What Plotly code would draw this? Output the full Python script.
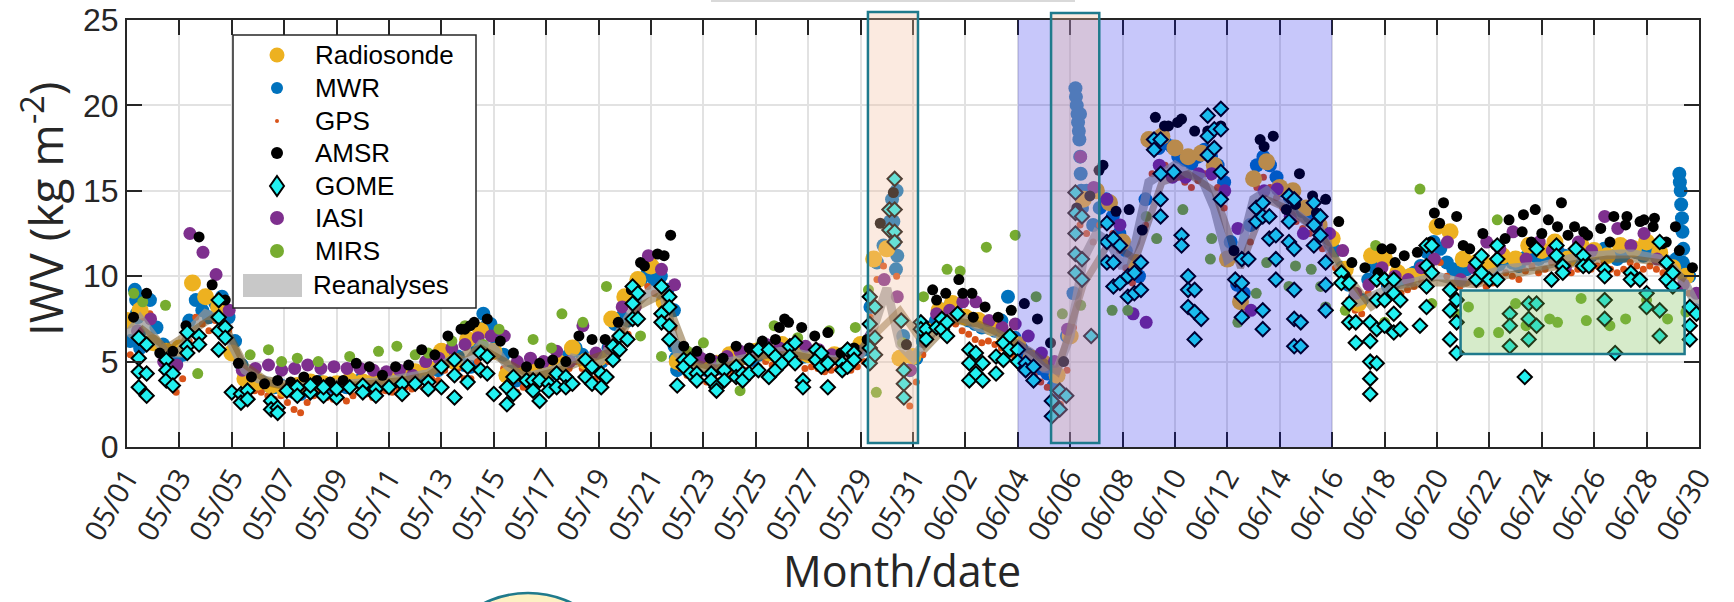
import numpy as np
import plotly.graph_objects as go

# ---------------- axis labels ----------------
tick_text = ["05/01", "05/03", "05/05", "05/07", "05/09", "05/11", "05/13", "05/15",
             "05/17", "05/19", "05/21", "05/23", "05/25", "05/27", "05/29", "05/31",
             "06/02", "06/04", "06/06", "06/08", "06/10", "06/12", "06/14", "06/16",
             "06/18", "06/20", "06/22", "06/24", "06/26", "06/28", "06/30"]
y_ticks = [0, 5, 10, 15, 20, 25]
legend_names = ["Radiosonde", "MWR", "GPS", "AMSR", "GOME", "IASI", "MIRS", "Reanalyses"]

# ---------------- data (IWV, kg m-2), one row per day from 05/01 ----------------
mwr_v = [
    [6.2, 7.8, 8.8, 8.6], [7.0, 6.0, 5.6, 5.0], [5.4, 7.4, 8.6, 8.0], [7.6, 8.4, 8.8, 7.6],
    [6.2, 4.8, 4.2, 4.0], [3.8, 3.6, 3.5, 3.6], [3.4, 3.2, 3.1, 3.4], [3.7, 3.8, 3.6, 3.5],
    [3.6, 3.5, 3.8, 3.9], [3.7, 3.6, 3.9, 4.0], [3.8, 4.0, 4.1, 4.0], [4.2, 4.4, 4.6, 4.5],
    [5.2, 5.6, 5.3, 4.8], [4.7, 5.8, 6.8, 7.2], [6.2, 5.4, 4.4, 3.9], [4.1, 4.3, 4.1, 4.4],
    [4.6, 4.3, 4.8, 5.4], [5.8, 5.4, 5.0, 4.8], [5.0, 5.8, 7.2, 7.6], [7.4, 8.6, 9.8, 10.2],
    [9.8, 10.0, 9.2, 8.0], [5.4, 4.9, 4.7, 4.6], [4.5, 4.7, 4.6, 4.9], [5.1, 5.3, 5.2, 5.1],
    [5.4, 5.7, 5.5, 5.3], [5.6, 5.9, 5.7, 5.3], [5.4, 5.3, 5.1, 5.2], [5.3, 5.1, 5.2, 5.4],
    [5.7, 8.2, 10.8, 11.8], [13.2, 15.0, 6.5, 4.5], [5.2, 6.2, 7.0, 7.4], [7.8, 8.2, 8.0, 7.6],
    [7.4, 7.2, 7.0, 7.0], [6.8, 7.4, 8.8, 6.4], [5.8, 5.4, 5.0, 4.6], [4.3, 3.6, 3.2, 6.5],
    [9.0, 19.5, 15.0, 13.0], [14.0, 14.5, 13.5, 12.5], [11.5, 10.5, 10.0, 14.5], [17.8, 17.5, 17.8, 17.6],
    [17.0, 16.8, 16.6, 17.0], [17.4, 17.0, 16.5, 15.5], [12.0, 9.5, 9.0, 13.0], [16.5, 17.0, 16.5, 15.8],
    [15.0, 14.6, 14.2, 13.8], [13.5, 13.0, 12.6, 12.2], [11.5, 10.5, 9.5, 8.8], [8.6, 9.8, 10.5, 10.8],
    [9.4, 9.6, 9.8, 10.0], [10.2, 10.6, 11.4, 12.0], [11.6, 10.8, 10.4, 10.2], [10.4, 10.6, 10.5, 10.2],
    [10.4, 10.7, 11.0, 10.8], [10.6, 11.1, 11.4, 11.0], [11.2, 11.6, 11.4, 11.2], [11.0, 11.2, 11.5, 11.2],
    [11.4, 11.6, 11.2, 11.0], [11.2, 11.6, 11.4, 11.2], [11.4, 11.2, 11.0, 10.8], [11.0, 10.8, 10.0, 8.0],
]
mwr_extra_t = [0.3, 0.35, 0.4, 0.45, 0.5, 13.6, 13.65, 20.9, 20.95, 21.0,
               29.2, 29.25, 29.3, 29.35, 29.4, 36.2, 36.22, 36.25, 36.28, 36.3,
               36.33, 36.35, 36.38, 36.4, 36.42, 36.45, 59.25, 59.27, 59.3, 59.32,
               59.35, 59.37, 59.4, 59.42]
mwr_extra_v = [9.2, 8.6, 7.6, 6.6, 5.8, 7.8, 7.0, 5.9, 5.2, 4.5,
               14.5, 13.2, 12.0, 10.4, 11.2, 21.0, 20.5, 20.0, 19.5, 19.0,
               18.5, 18.0, 17.0, 16.0, 15.0, 14.0, 16.0, 15.5, 15.0, 14.2,
               13.4, 12.6, 11.6, 10.6]

gps_v = [
    [5.4, 6.5, 7.6, 7.8], [6.0, 5.0, 4.4, 3.2], [4.0, 6.2, 7.6, 7.2], [6.8, 7.4, 7.8, 6.8],
    [5.4, 4.0, 3.5, 3.3], [3.2, 3.0, 2.8, 3.0], [2.6, 2.2, 2.0, 2.6], [3.0, 3.2, 2.9, 2.8],
    [2.9, 2.7, 3.0, 3.2], [3.1, 2.9, 3.2, 3.3], [3.2, 3.4, 3.5, 3.4], [3.6, 3.8, 4.0, 3.9],
    [4.5, 4.8, 4.6, 4.0], [4.0, 5.0, 6.0, 6.4], [5.4, 4.6, 3.6, 3.2], [3.5, 3.7, 3.5, 3.8],
    [3.9, 3.6, 4.1, 4.6], [5.0, 4.6, 4.2, 4.0], [4.2, 5.0, 6.4, 6.8], [6.6, 7.8, 9.0, 9.4],
    [9.0, 9.2, 8.4, 7.0], [4.6, 4.2, 4.0, 3.9], [3.8, 4.0, 3.9, 4.2], [4.4, 4.6, 4.5, 4.4],
    [4.7, 5.0, 4.8, 4.6], [4.9, 5.2, 5.0, 4.6], [4.7, 4.6, 4.4, 4.5], [4.6, 4.4, 4.5, 4.7],
    [5.0, 7.6, 9.8, 10.6], [11.5, 10.0, 3.0, 2.4], [3.8, 5.4, 6.3, 6.8], [7.0, 7.4, 7.2, 6.8],
    [6.6, 6.3, 6.1, 6.2], [6.0, 5.8, 5.6, 5.3], [5.0, 4.6, 4.2, 3.8], [3.5, 2.8, 2.5, 4.5],
    [7.0, 13.0, 12.5, 12.0], [13.0, 13.2, 12.5, 11.5], [10.5, 9.6, 9.2, 13.0], [16.0, 16.2, 16.5, 16.2],
    [15.8, 15.5, 15.2, 15.6], [16.0, 15.8, 15.2, 14.0], [11.0, 8.5, 8.2, 12.0], [15.2, 15.8, 15.2, 14.6],
    [14.0, 13.6, 13.2, 12.8], [12.5, 12.0, 11.6, 11.2], [10.5, 9.6, 8.6, 8.0], [7.8, 9.0, 9.8, 10.0],
    [8.6, 8.8, 9.0, 9.2], [9.4, 9.8, 10.5, 11.0], [10.8, 10.0, 9.6, 9.4], [9.6, 9.8, 9.7, 9.4],
    [9.6, 9.9, 10.2, 10.0], [9.8, 10.3, 10.6, 10.2], [10.4, 10.8, 10.6, 10.4], [10.2, 10.4, 10.7, 10.4],
    [10.6, 10.8, 10.4, 10.2], [10.4, 10.8, 10.6, 10.4], [10.6, 10.4, 10.2, 10.0], [10.2, 9.8, 9.0, 7.8],
]

radiosonde_v = [
    [7.4, 8.0], [6.1, 5.6], [5.8, 9.6], [8.8, 8.2], [5.5, 4.0], [3.8, 3.6], [3.4, 3.6], [3.8, 3.7],
    [3.7, 3.9], [3.8, 4.0], [4.0, 4.2], [4.4, 4.6], [5.6, 5.0], [6.3, 6.8], [5.6, 4.2], [4.3, 4.4],
    [4.5, 4.9], [5.8, 5.0], [5.2, 7.5], [8.8, 9.8], [10.6, 8.5], [5.0, 4.8], [4.8, 4.9], [5.4, 5.3],
    [5.6, 5.5], [6.0, 5.6], [5.4, 5.2], [5.4, 5.5], [6.0, 11.0], [11.6, 5.2], [5.3, 6.8], [8.0, 8.4],
    [7.6, 7.4], [7.0, 6.4], [6.0, 5.2], [4.9, 4.2], [6.5, 14.5], [15.0, 14.3], [12.0, 10.8], [18.0, 18.2],
    [17.5, 17.0], [17.2, 16.5], [11.0, 8.5], [15.7, 16.7], [15.2, 15.0], [14.0, 13.0], [12.2, 10.4], [8.4, 11.2],
    [11.0, 10.2], [10.0, 10.3], [12.9, 12.6], [11.0, 10.8], [10.6, 11.2], [11.0, 11.8], [11.5, 12.0], [11.0, 11.8],
    [11.5, 11.2], [11.8, 11.6], [12.0, 11.4], [10.5, 10.0],
]

amsr_v = [
    [7.6, 9.0], [5.5, 5.6], [7.1, 12.3], [9.5, 8.6], [4.9, 4.1], [3.7, 3.9], [3.8, 4.1], [3.9, 3.8],
    [3.9, 4.9], [4.7, 4.2], [4.7, 4.8], [5.7, 5.4], [6.5, 6.9], [7.3, 7.5], [6.2, 5.5], [4.7, 4.9],
    [5.1, 5.0], [6.5, 6.3], [6.3, 7.3], [9.2, 10.6], [11.3, 12.4], [5.9, 5.6], [5.2, 5.2], [5.9, 5.8],
    [6.2, 6.3], [7.3, 7.0], [6.5, 6.7], [5.5, 5.8], [6.3, 13.1], [14.9, 6.0], [6.9, 9.2], [9.0, 9.8],
    [9.0, 8.2], [7.6, 8.0], [8.4, 7.5], [6.1, 5.0], [14.0, 14.7], [16.5, 13.8], [13.9, 12.7], [19.3, 18.8],
    [19.2, 18.5], [18.5, 18.8], [11.5, 11.0], [18.0, 18.2], [13.9, 16.0], [14.7, 14.5], [13.2, 10.8], [10.5, 10.2],
    [11.6, 11.2], [11.4, 12.0], [14.3, 13.5], [11.6, 12.5], [11.8, 13.3], [12.6, 13.9], [13.3, 14.3], [12.9, 12.4],
    [12.8, 13.5], [13.5, 13.2], [12.9, 12.0], [11.5, 10.5],
]
amsr_extra_t = [49.9, 50.1, 51.0, 52.6, 53.3, 53.6, 54.0, 54.6, 55.0, 55.6,
                56.6, 57.2, 57.9, 58.3, 58.6, 59.1, 47.9, 48.4, 12.9, 13.1,
                19.6, 20.5, 24.9, 25.1, 30.9, 31.9, 32.3, 37.1, 39.6, 40.1,
                43.4, 44.6, 45.4, 46.5]
amsr_extra_v = [13.7, 13.1, 11.8, 12.2, 13.6, 12.0, 12.5, 12.9, 12.4, 12.6,
                12.0, 13.0, 13.3, 13.4, 11.9, 12.9, 11.6, 10.8, 6.9, 7.1,
                10.8, 11.2, 7.0, 7.5, 8.6, 9.0, 7.6, 16.2, 18.8, 19.0,
                17.6, 14.2, 13.7, 10.0]

iasi_v = [
    [6.8, 7.5], [5.0, 4.8], [12.5, 11.4], [10.1, 8.0], [4.5, 4.6], [4.8, 4.5], [4.6, 4.8], [4.6, 4.7],
    [4.6, 4.6], [4.5, 4.4], [4.5, 4.2], [5.0, 5.2], [5.8, 6.0], [6.4, 6.5], [6.5, 5.0], [5.2, 5.0],
    [5.6, 5.0], [7.1, 5.5], [5.8, 8.2], [8.2, 11.2], [10.4, 9.5], [5.3, 5.2], [5.0, 5.3], [5.6, 5.4],
    [6.0, 5.8], [6.0, 5.9], [5.7, 5.4], [5.2, 5.6], [6.5, 9.8], [8.8, 4.5], [6.2, 7.8], [8.0, 8.5],
    [8.5, 7.4], [7.0, 7.2], [6.5, 5.5], [5.0, 6.9], [17.0, 15.2], [14.5, 13.0], [7.8, 7.3], [16.5, 15.8],
    [15.8, 16.0], [16.0, 15.0], [12.8, 8.0], [15.0, 15.1], [13.5, 12.5], [13.1, 12.5], [11.5, 9.0], [9.5, 10.5],
    [10.0, 9.8], [10.5, 11.0], [12.0, 9.8], [10.5, 12.0], [11.6, 12.6], [11.0, 12.0], [11.5, 10.5], [12.0, 11.5],
    [13.5, 12.8], [11.8, 12.5], [11.0, 10.0], [9.5, 9.0],
]

mirs_t = [0.26, 0.6, 1.47, 2.7, 3.6, 4.7, 5.4, 5.9, 6.5, 7.3,
          8.5, 9.6, 10.3, 11.0, 11.5, 12.4, 12.9, 13.6, 14.2, 15.5,
          16.2, 16.6, 17.4, 18.3, 19.6, 20.4, 21.4, 22.0, 22.7, 23.4,
          24.2, 24.7, 25.6, 26.8, 27.8, 28.3, 28.6, 29.6, 30.4, 31.3,
          31.8, 32.8, 33.9, 34.7, 35.7, 36.4, 37.6, 38.2, 38.9, 39.3,
          40.3, 41.35, 41.4, 42.4, 43.1, 43.5, 44.35, 44.6, 45.2, 45.56,
          45.75, 46.5, 47.66, 48.0, 48.6, 49.35, 49.8, 50.75, 51.2, 51.6,
          52.3, 52.35, 53.0, 53.4, 54.3, 54.6, 55.5, 55.7, 56.6, 57.2,
          58.0, 58.8, 59.5]
mirs_v = [9.0, 8.5, 8.3, 4.3, 7.0, 5.4, 5.7, 5.0, 5.2, 5.0,
          5.3, 5.6, 5.9, 5.4, 5.5, 6.2, 7.1, 6.0, 6.9, 6.3,
          5.8, 7.8, 7.3, 9.4, 6.5, 5.3, 5.6, 6.1, 5.0, 3.3,
          6.0, 7.1, 6.4, 6.8, 7.0, 9.2, 3.2, 6.1, 8.8, 10.4,
          10.3, 11.7, 12.4, 8.8, 7.8, 8.3, 8.0, 8.0, 13.5, 12.2,
          13.9, 11.0, 12.2, 7.3, 9.0, 10.8, 9.4, 10.6, 10.4, 9.4,
          8.2, 8.0, 11.8, 7.3, 8.6, 15.1, 8.4, 7.8, 8.2, 6.7,
          13.3, 6.7, 8.4, 7.1, 7.5, 7.3, 8.7, 7.4, 7.1, 7.5,
          8.6, 7.5, 7.9]

gome_t = [0.45, 0.75, 1.5, 1.75, 2.3, 2.75, 3.5, 3.75, 4.0, 4.35,
          4.6, 5.5, 5.75, 6.1, 6.5, 7.0, 7.5, 8.0, 8.5, 9.0,
          9.5, 10.0, 10.5, 11.0, 11.5, 12.0, 12.5, 13.0, 13.5, 13.75,
          14.0, 14.5, 14.75, 15.25, 15.5, 15.75, 16.1, 16.4, 16.75, 17.0,
          17.5, 17.75, 18.1, 18.3, 18.55, 18.8, 19.1, 19.3, 19.5, 20.4,
          20.7, 21.0, 21.25, 21.5, 21.75, 22.3, 22.5, 22.8, 23.25, 23.5,
          23.75, 24.1, 24.5, 24.75, 25.0, 25.3, 25.5, 25.8, 26.3, 26.5,
          26.75, 27.3, 27.5, 27.75, 28.35, 28.55, 29.1, 29.3, 29.55, 29.65,
          30.3, 30.5, 30.9, 31.1, 31.3, 31.7, 32.15, 32.4, 32.66, 33.17,
          33.45, 33.7, 34.0, 34.3, 34.6, 35.3, 35.6, 35.85, 36.2, 36.45,
          36.8, 37.4, 37.65, 37.9, 38.2, 38.45, 38.7, 39.2, 39.45, 39.95,
          40.25, 40.5, 40.75, 41.0, 41.25, 41.5, 41.75, 42.3, 42.55, 42.8,
          43.1, 43.35, 43.6, 43.85, 44.35, 44.55, 44.8, 45.3, 45.55, 45.75,
          46.35, 46.65, 46.9, 47.45, 47.7, 48.0, 48.35, 48.6, 49.35, 49.6,
          49.8, 50.5, 50.75, 51.5, 51.7, 52.0, 52.3, 52.78, 53.35, 53.5,
          53.8, 54.37, 54.56, 54.8, 55.3, 55.58, 55.8, 56.4, 56.8, 57.4,
          57.74, 58.0, 58.5, 58.76, 59.0, 59.65, 59.9]
gome_v = [[6.4, 5.2, 4.4, 3.5], [6.0, 4.3, 3.0], [5.1, 4.5, 3.9], [4.3, 3.6], [6.7, 5.9, 5.5],
          [6.5, 6.0], [8.6, 7.6, 6.8, 5.7], [7.0, 6.4], [3.2], [3.1, 2.6],
          [3.3, 2.8], [2.7, 2.2], [2.3, 2.0], [3.3], [3.5, 3.0],
          [3.2, 3.6], [3.0, 3.5], [2.9, 3.4], [3.5], [3.6, 3.2],
          [3.4, 3.0], [3.5], [3.7, 3.1], [3.7], [3.8, 3.4],
          [4.7, 3.5], [5.1, 4.2, 2.9], [4.7, 3.8], [5.5, 4.5], [5.3, 4.3],
          [3.1], [3.5, 2.5], [4.1, 3.1], [3.9], [3.9, 3.3],
          [3.9, 2.7], [3.7, 3.3], [4.3, 3.5], [4.1, 3.5], [3.7],
          [5.1, 4.1], [4.7, 3.7], [4.3, 3.5], [4.1], [5.9, 5.1],
          [6.5, 5.7], [6.3], [9.4, 8.4, 7.5], [9.0, 7.5], [9.4, 7.8, 7.3],
          [8.8, 8.2, 7.1, 6.3], [3.6], [5.1, 4.7], [5.1, 4.3], [4.3, 3.9],
          [4.3, 3.9], [3.5, 3.3], [4.5, 3.9], [4.7, 4.1], [4.3, 3.9],
          [5.1, 4.3], [5.7, 4.5], [5.7, 4.1], [5.3, 4.5], [4.9],
          [5.9, 5.3], [6.1, 4.9], [3.9, 3.5], [5.7, 5.1], [5.5, 4.7],
          [4.9, 3.5], [4.9, 4.5], [5.7, 4.7], [5.5, 5.1], [8.8, 7.2, 5.8, 4.9],
          [8.2, 6.4, 5.4], [13.9, 12.7], [15.7, 13.9, 12.6, 12.0], [7.4], [4.5, 3.7, 2.9],
          [7.3, 6.9], [6.9, 6.3], [7.0], [7.5, 6.9], [7.3, 6.5],
          [7.8], [5.7, 4.9, 3.9], [5.5, 4.3], [4.9, 3.9], [5.3, 4.3],
          [6.1, 5.1], [6.5, 5.7], [5.7, 5.0], [4.9, 4.5], [4.7, 3.9],
          [2.7, 1.8], [3.3, 2.2], [3.0], [14.9, 13.7, 12.5, 11.3, 10.2], [13.5, 11.0, 9.8],
          [6.5], [13.1, 12.0, 10.8], [12.2, 10.8, 9.4], [11.8, 9.6], [10.0, 8.8],
          [10.2, 9.0], [10.8, 9.2], [18.0, 17.4], [18.0, 16.0, 14.5, 13.5], [16.1],
          [12.4, 11.8], [10.0, 9.2, 8.2], [9.2, 7.9, 6.3], [7.5], [19.4, 18.2, 17.1],
          [18.6, 17.5], [19.8, 18.6, 16.1, 14.5], [9.8], [11.0, 9.6, 8.8, 7.6], [11.0],
          [14.0, 13.2], [14.3, 13.5, 8.0, 6.9], [13.5, 12.2], [12.4, 11.0, 9.8], [14.7, 13.2, 12.0],
          [14.5, 11.6, 9.2, 7.5, 5.9], [7.3, 5.9], [14.3, 13.0, 11.8], [13.5, 12.4], [10.8, 9.5, 8.0],
          [10.2, 9.6], [9.6, 8.4, 7.3], [7.3, 6.1], [7.3, 6.2, 5.0, 4.0, 3.1], [9.8, 8.6, 6.9, 4.9],
          [9.8, 8.6, 7.1], [9.8, 9.0, 7.8, 6.7], [8.6, 6.9], [7.1], [11.8, 10.6, 9.4, 8.2],
          [11.8, 10.2], [9.2, 8.0, 6.3], [8.6, 7.3, 5.5], [10.8, 9.8], [11.2, 10.2],
          [9.8], [11.8, 11.0, 9.8], [7.8, 7.1, 5.9], [4.1], [8.4, 7.5, 6.3],
          [11.6, 8.4, 7.1], [9.8], [11.8, 11.2], [10.6, 10.2], [11.6],
          [11.2, 10.6], [10.6], [10.4, 10.0, 8.6, 7.5], [5.5], [10.2, 9.8],
          [9.8], [9.0, 8.2], [12.0, 8.0, 6.5], [10.8, 9.8], [10.2, 9.4],
          [8.2, 7.1, 6.3], [7.8]]

rean_gray_v = [6.5, 7.5, 6.5, 5.5, 5.5, 7.0, 7.8, 7.5, 6.0, 4.5,
               4.0, 3.8, 3.6, 3.5, 3.6, 3.7, 3.7, 3.7, 3.7, 3.8,
               3.9, 4.0, 4.1, 4.3, 4.8, 5.2, 5.0, 6.0, 5.8, 4.8,
               4.2, 4.2, 4.4, 4.6, 5.2, 5.0, 4.9, 6.0, 7.2, 8.5,
               9.2, 8.8, 5.5, 4.8, 4.6, 4.7, 5.0, 5.1, 5.3, 5.5,
               5.6, 5.5, 5.3, 5.2, 5.1, 5.2, 5.4, 7.0, 9.3, 6.0,
               5.2, 6.2, 7.2, 7.6, 7.5, 7.0, 6.8, 6.4, 6.0, 5.4,
               4.6, 4.5, 6.5, 11.0, 12.5, 12.0, 10.5, 12.0, 15.5, 16.0,
               16.5, 16.0, 15.8, 14.0, 11.0, 11.5, 14.5, 15.0, 14.3, 13.8,
               13.2, 12.8, 11.2, 10.0, 8.5, 8.8, 9.2, 9.5, 9.6, 9.8,
               10.0, 9.8, 9.6, 9.9, 10.2, 10.4, 10.5, 10.5, 10.6, 10.8,
               11.0, 11.2, 11.2, 11.3, 11.3, 11.3, 11.2, 11.0, 10.5, 9.5,
               8.0]
rean_brown_v = [7.0, 5.8, 6.8, 7.8, 4.8, 3.7, 3.4, 3.6, 3.6, 3.7,
                3.9, 4.2, 5.2, 5.8, 5.0, 4.1, 4.5, 5.1, 5.6, 8.2,
                9.0, 5.0, 4.6, 5.0, 5.4, 5.4, 5.1, 5.0, 6.5, 8.0,
                5.8, 7.4, 7.2, 6.5, 5.6, 4.4, 9.5, 12.0, 11.0, 15.5,
                16.0, 15.0, 10.5, 14.5, 13.8, 12.6, 10.2, 8.2, 9.2, 9.6,
                9.6, 9.5, 10.0, 10.3, 10.5, 10.8, 11.0, 11.0, 10.8, 9.8]

# ---------------- sample times (days since 05/01 00 UTC) ----------------
n_days = 60
t4 = [d + 0.125 + 0.25 * k for d in range(n_days) for k in range(4)]
t_rs = [d + 0.5 * k for d in range(n_days) for k in range(2)]
t_amsr = [d + 0.25 + 0.5 * k for d in range(n_days) for k in range(2)]
t_iasi = [d + 0.4 + 0.5 * k for d in range(n_days) for k in range(2)]
t_rean_gray = [0.5 * k for k in range(len(rean_gray_v))]
t_rean_brown = [d + 0.5 for d in range(n_days)]


def flat(rows):
    return [v for r in rows for v in r]


gome_x = [t for t, vals in zip(gome_t, gome_v) for _ in vals]
gome_y = flat(gome_v)

# ---------------- styling ----------------
C_RS = "#EDB120"
C_MWR = "#0072BD"
C_GPS = "#D95319"
C_AMSR = "#000000"
C_GOME = "#22F0F0"
C_IASI = "#7E2F8E"
C_MIRS = "#77AC30"
TEAL = "#1F7A8C"
AX = "#262626"
FONT = "Open Sans"

fig = go.Figure()

fig.add_trace(go.Scatter(x=t4 + mwr_extra_t, y=flat(mwr_v) + mwr_extra_v, mode="markers", name="MWR",
                         marker=dict(color=C_MWR, size=14, line=dict(width=0))))
fig.add_trace(go.Scatter(x=t4, y=flat(gps_v), mode="markers", name="GPS",
                         marker=dict(color=C_GPS, size=7, line=dict(width=0))))
fig.add_trace(go.Scatter(x=t_rs, y=flat(radiosonde_v), mode="markers", name="Radiosonde",
                         marker=dict(color=C_RS, size=17, line=dict(width=0))))
fig.add_trace(go.Scatter(x=t_iasi, y=flat(iasi_v), mode="markers", name="IASI",
                         marker=dict(color=C_IASI, size=13, line=dict(width=0))))
fig.add_trace(go.Scatter(x=mirs_t, y=mirs_v, mode="markers", name="MIRS",
                         marker=dict(color=C_MIRS, size=11, line=dict(width=0))))
fig.add_trace(go.Scatter(x=t_rean_gray, y=rean_gray_v, mode="lines", name="Reanalyses",
                         line=dict(color="rgba(150,150,150,0.75)", width=9)))
fig.add_trace(go.Scatter(x=t_rean_brown, y=rean_brown_v, mode="lines", name="Reanalyses 2",
                         line=dict(color="rgba(120,85,30,0.5)", width=7)))
fig.add_trace(go.Scatter(x=t_amsr + amsr_extra_t, y=flat(amsr_v) + amsr_extra_v, mode="markers", name="AMSR",
                         marker=dict(color=C_AMSR, size=11, line=dict(width=0))))
fig.add_trace(go.Scatter(x=gome_x, y=gome_y, mode="markers", name="GOME",
                         marker=dict(color=C_GOME, size=11, symbol="diamond",
                                     line=dict(color="#000000", width=2))))

# ---------------- geometry helpers (pixels -> paper) ----------------
W, H = 1734, 602
ML, MR, MT, MB = 127, 35, 20, 155
PW, PH = W - ML - MR, H - MT - MB


def px(x):
    return (x - ML) / PW


def py(y):
    return (H - MB - y) / PH


def circle_px(cx, cy, d, color, line=None):
    return dict(type="circle", xref="paper", yref="paper", layer="above",
                x0=px(cx - d / 2), x1=px(cx + d / 2), y0=py(cy + d / 2), y1=py(cy - d / 2),
                fillcolor=color, line=line or dict(width=0))


shapes = [
    dict(type="rect", xref="x", yref="y", x0=34, x1=46, y0=0, y1=25, layer="above",
         fillcolor="rgba(0,0,230,0.22)", line=dict(width=0)),
    dict(type="rect", xref="x", yref="paper", x0=28.28, x1=30.19, y0=py(443), y1=py(12), layer="above",
         fillcolor="rgba(243,191,161,0.33)", line=dict(color=TEAL, width=2.5)),
    dict(type="rect", xref="x", yref="paper", x0=35.27, x1=37.11, y0=py(443), y1=py(13), layer="above",
         fillcolor="rgba(243,191,161,0.33)", line=dict(color=TEAL, width=2.5)),
    dict(type="rect", xref="x", yref="y", x0=50.9, x1=59.45, y0=5.45, y1=9.16, layer="above",
         fillcolor="rgba(120,190,80,0.3)", line=dict(color=TEAL, width=2.5)),
    dict(type="rect", xref="paper", yref="paper", x0=px(711), x1=px(1075), y0=py(2), y1=py(0),
         fillcolor="#D9D9D9", line=dict(width=0), layer="above"),
    dict(type="circle", xref="paper", yref="paper", x0=px(428), x1=px(628), y0=py(793), y1=py(593),
         fillcolor="#FDF1C3", line=dict(color=TEAL, width=2.5), layer="above"),
    # legend box
    dict(type="rect", xref="paper", yref="paper", x0=px(233), x1=px(476), y0=py(308), y1=py(35),
         fillcolor="white", line=dict(color=AX, width=1.5), layer="above"),
]

# legend symbols (pixel rows of the legend box)
row_y = [55, 88, 121, 153, 186, 218, 251, 285]
sym_x = 277
shapes += [
    circle_px(sym_x, row_y[0], 15, C_RS),
    circle_px(sym_x, row_y[1], 12, C_MWR),
    circle_px(sym_x, row_y[2], 4, C_GPS),
    circle_px(sym_x, row_y[3], 12, C_AMSR),
    dict(type="path", xref="paper", yref="paper", layer="above",
         path="M {a},{b} L {c},{d} L {a},{e} L {f},{d} Z".format(
             a=px(sym_x), b=py(row_y[4] - 10), c=px(sym_x + 7), d=py(row_y[4]),
             e=py(row_y[4] + 10), f=px(sym_x - 7)),
         fillcolor=C_GOME, line=dict(color="#000000", width=2)),
    circle_px(sym_x, row_y[5], 14, C_IASI),
    circle_px(sym_x, row_y[6], 14, C_MIRS),
    dict(type="rect", xref="paper", yref="paper", layer="above",
         x0=px(243), x1=px(302), y0=py(297), y1=py(274), fillcolor="#C8C8C8", line=dict(width=0)),
]

annotations = [
    dict(text="IWV (kg m<sup>-2</sup>)", xref="paper", yref="paper", x=px(43), y=py(209),
         textangle=-90, showarrow=False, xanchor="center", yanchor="middle",
         font=dict(family=FONT, size=46, color=AX)),
    dict(text="Month/date", xref="paper", yref="paper", x=px(902), y=py(570),
         showarrow=False, xanchor="center", yanchor="middle",
         font=dict(family=FONT, size=43, color=AX)),
]
for name, yy in zip(legend_names, row_y):
    annotations.append(dict(text=name, xref="paper", yref="paper", x=px(311 if name == "Reanalyses" else 313),
                            y=py(yy), xanchor="left", yanchor="middle", showarrow=False,
                            font=dict(family="Liberation Sans", size=26, color="#000000")))

fig.update_layout(
    width=W, height=H,
    margin=dict(l=ML, r=MR, t=MT, b=MB, pad=0),
    paper_bgcolor="white", plot_bgcolor="white",
    shapes=shapes, annotations=annotations,
    showlegend=False,
    xaxis=dict(range=[0, 60], tickmode="array", tickvals=list(range(0, 61, 2)), ticktext=tick_text,
               tickangle=-60, ticks="inside", ticklen=15, tickwidth=2, tickcolor=AX,
               showline=True, linecolor=AX, linewidth=2, mirror="allticks",
               showgrid=True, gridcolor="#E2E2E2", gridwidth=1.5, zeroline=False,
               ticklabeloverflow="allow", automargin=False,
               tickfont=dict(family=FONT, size=29, color=AX)),
    yaxis=dict(range=[0, 25], tickmode="array", tickvals=y_ticks,
               ticks="inside", ticklen=15, tickwidth=2, tickcolor=AX,
               showline=True, linecolor=AX, linewidth=2, mirror="allticks",
               showgrid=True, gridcolor="#E2E2E2", gridwidth=1.5, zeroline=False,
               ticklabeloverflow="allow", automargin=False,
               tickfont=dict(family="Liberation Sans", size=32, color=AX)),
)

fig.write_html("out.html")
